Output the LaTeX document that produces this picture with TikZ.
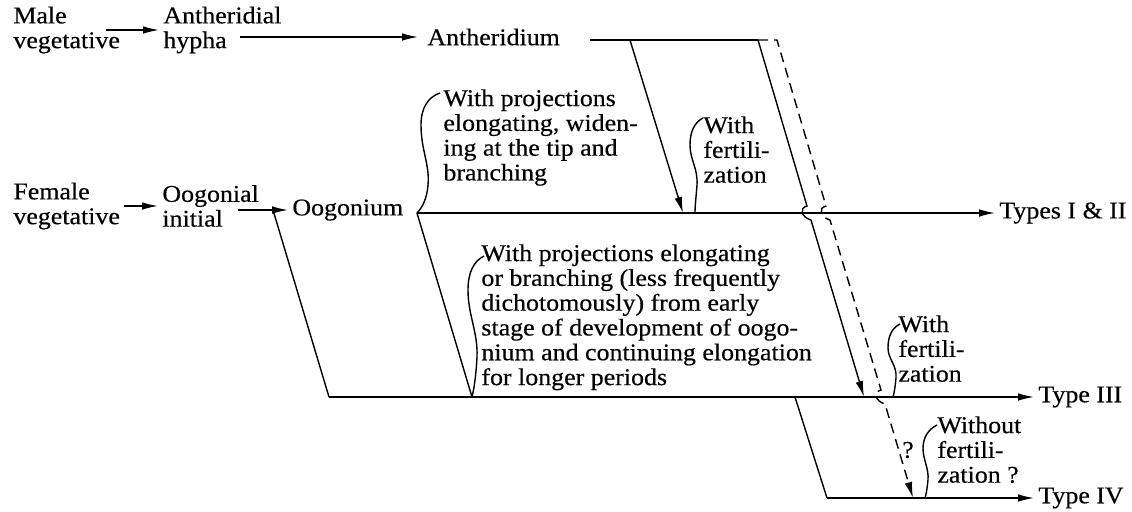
\documentclass[tikz,border=0pt]{standalone}
\usepackage{fontspec}
\setmainfont{Liberation Serif}[FakeStretch=1.08, FakeBold=0.4]
\usetikzlibrary{arrows.meta}

\tikzset{
    lbl/.style={inner xsep=2pt, inner ysep=0pt, align=left, anchor=west, font=\fontsize{12}{12.4}\selectfont},
    txt/.style={inner sep=0pt, align=left, anchor=north west, font=\fontsize{12}{12.4}\selectfont},
    ln/.style={line width=0.7pt},
    dsh/.style={line width=0.7pt, dash pattern=on 5pt off 3pt},
    >={Latex[length=8pt,width=3.8pt]}
}

\begin{document}
\begin{tikzpicture}[x=0.5pt, y=-0.5pt]

    \useasboundingbox (0,0) rectangle (1132,511);

    % Male side
    \node[lbl] (male) at (9,30) {Male\\vegetative};
    \node[lbl] (anthyph) at (159,30) {Antheridial\\hypha};
    \node[lbl] (anth) at (423,37) {Antheridium};

    % Female side
    \node[lbl] (fem) at (9,206) {Female\\vegetative};
    \node[lbl] (oogini) at (158,206) {Oogonial\\initial};
    \node[lbl] (oog) at (288,210) {Oogonium};

    % Resulting types
    \node[lbl] (typ12) at (995,213) {Types I \& II};
    \node[lbl] (typ3) at (1034,397) {Type III};
    \node[lbl] (typ4) at (1034,498) {Type IV};

    % Remarks
    \node[txt] (proj1) at (443,89) {With projections\\elongating, widen-\\ing at the tip and\\branching};
    \node[txt] (fert1) at (703,116) {With\\fertili-\\zation};
    \node[txt] (proj2) at (481,244) {With projections elongating\\or branching (less frequently\\dichotomously) from early\\stage of development of oogo-\\nium and continuing elongation\\for longer periods};
    \node[txt] (fert2) at (898,315) {With\\fertili-\\zation};
    \node[txt] (nofert) at (937,416) {Without\\fertili-\\zation ?};
    \node[inner sep=0pt, font=\fontsize{12}{12.4}\selectfont] (qm) at (908,450) {?};

    % Junctions
    \coordinate (ma0) at (240,37);
    \coordinate (an0) at (590,40);
    \coordinate (an1) at (630,40);
    \coordinate (an2) at (758,40);
    \coordinate (an3) at (777,40);
    \coordinate (og0) at (238,210);
    \coordinate (og1) at (273,210);
    \coordinate (ty0) at (417,213);
    \coordinate (ty1) at (683,213);
    \coordinate (ty2) at (695,213);
    \coordinate (t30) at (329,397);
    \coordinate (t31) at (472,397);
    \coordinate (t32) at (864,397);
    \coordinate (t33) at (795,397);
    \coordinate (t34) at (893,397);
    \coordinate (t40) at (827,498);
    \coordinate (t41) at (913,498);
    \coordinate (t42) at (925,498);

    % Arrows between stages
    \draw[ln, ->] ([xshift=-9pt]male.east) -- (anthyph.west);
    \draw[ln, ->, shorten >=2.5pt] (ma0) -- (anth.west);
    \draw[ln, ->] (fem.east) -- (oogini.west);
    \draw[ln, ->] (og0) -- (oog.west);

    % Antheridium branches
    \draw[ln] (an0) -- (an2);
    \draw[ln, ->] (an1) -- (ty1);
    \draw[ln, ->] (an2) -- (807,206) .. controls (799,208) and (801,217) .. (811,220) -- (t32);
    \draw[dsh, ->] (an2) -- (an3) -- (826,206) .. controls (818,208) and (820,217) .. (830,220)
        -- (881,390) .. controls (873,392) and (875,401) .. (885,404) -- (t41);

    % Oogonium branches
    \draw[ln, ->] (ty0) -- (typ12.west);
    \draw[ln] (ty0) -- (t31);
    \draw[ln] (og1) -- (t30);
    \draw[ln, ->] (t30) -- (typ3.west);
    \draw[ln] (t33) -- (t40);
    \draw[ln, ->] (t40) -- (typ4.west);

    % Braces
    \draw[ln] (440,93) .. controls (428,97) and (421,108) .. (421,125)
        .. controls (421,150) and (430,165) .. (428,185) .. controls (427,200) and (421,209) .. (ty0);
    \draw[ln] (703,118) .. controls (695,122) and (690,131) .. (690,145)
        .. controls (690,160) and (698,168) .. (697,185) .. controls (696,198) and (695,206) .. (ty2);
    \draw[ln] (484,256) .. controls (474,261) and (468,272) .. (468,290)
        .. controls (468,315) and (478,332) .. (477,357) .. controls (476,376) and (474,389) .. (t31);
    \draw[ln] (900,324) .. controls (892,328) and (888,336) .. (888,348)
        .. controls (888,359) and (897,365) .. (896,378) .. controls (895,388) and (894,394) .. (t34);
    \draw[ln] (937,425) .. controls (929,429) and (923,437) .. (923,448)
        .. controls (923,460) and (929,468) .. (928,480) .. controls (927,490) and (926,495) .. (t42);

\end{tikzpicture}
\end{document}
